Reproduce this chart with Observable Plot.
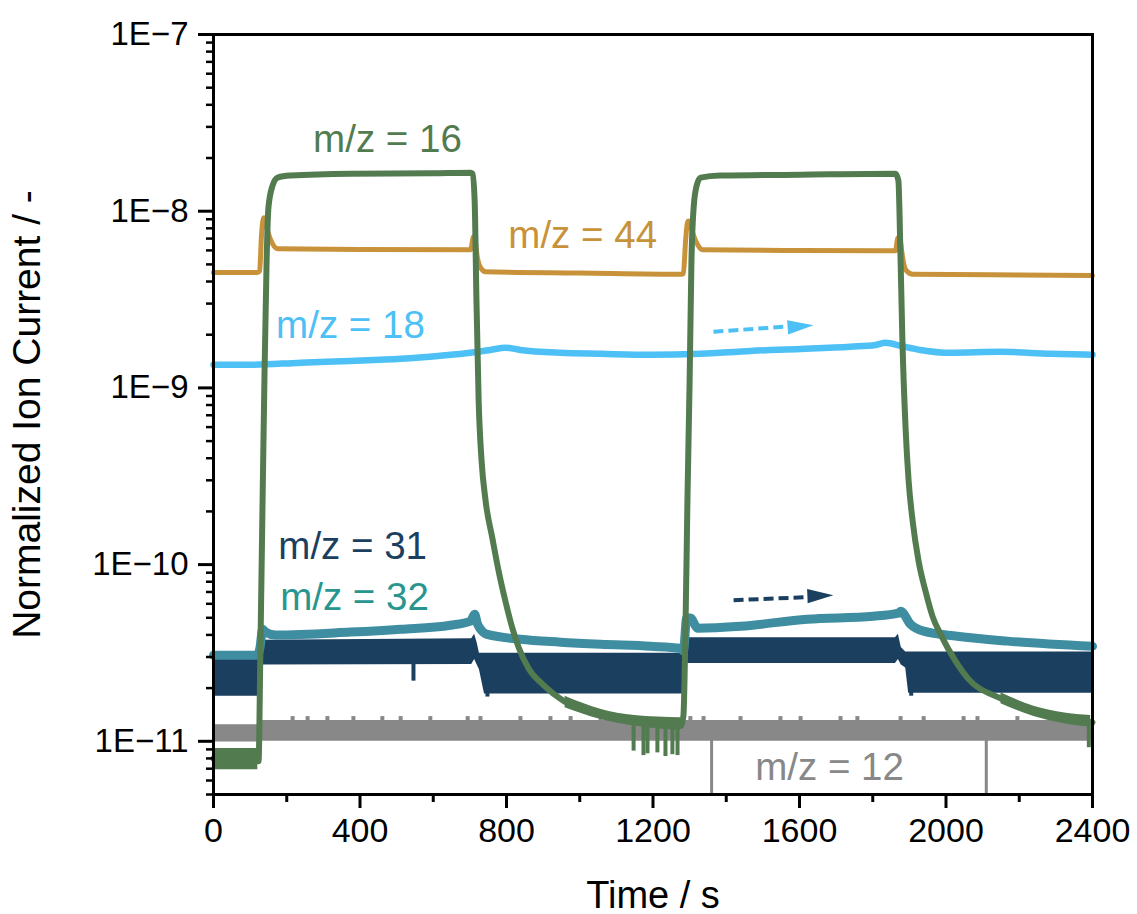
<!DOCTYPE html>
<html>
<head>
<meta charset="utf-8">
<script src="https://cdn.jsdelivr.net/npm/d3@7"></script>
<script src="https://cdn.jsdelivr.net/npm/@observablehq/plot@0.6"></script>
<style>
  html, body { margin: 0; padding: 0; background: #ffffff; }
  #chart { width: 1137px; height: 914px; }
</style>
</head>
<body>
<div id="chart"></div>
<script>
// ---------------- data ----------------
// m/z = 16 (green)
const t16 = [0, 123, 128, 134, 139, 145, 150, 161, 175, 210, 374, 600, 702, 707, 713, 718, 724, 732, 743, 762, 778, 797, 816, 833, 860, 901, 956, 1057, 1147, 1193, 1275, 1283, 1289, 1294, 1300, 1305, 1311, 1319, 1330, 1384, 1603, 1862, 1870, 1876, 1881, 1890, 1898, 1909, 1925, 1944, 1963, 1985, 2026, 2059, 2149, 2239, 2386, 2400];
const v16 = [8.0e-12, 7.7e-12, 3.24e-11, 2.29e-10, 1.10e-9, 5.24e-9, 1.05e-8, 1.39e-8, 1.55e-8, 1.59e-8, 1.63e-8, 1.64e-8, 1.65e-8, 1.63e-8, 1.15e-8, 3.11e-9, 8.44e-10, 3.86e-10, 2.29e-10, 1.39e-10, 9.31e-11, 6.21e-11, 4.37e-11, 3.41e-11, 2.59e-11, 2.08e-11, 1.69e-11, 1.42e-11, 1.30e-11, 1.25e-11, 1.22e-11, 1.39e-11, 4.79e-11, 2.29e-10, 1.10e-9, 5.24e-9, 1.05e-8, 1.39e-8, 1.55e-8, 1.59e-8, 1.61e-8, 1.63e-8, 1.49e-8, 5.24e-9, 1.85e-9, 5.71e-10, 2.97e-10, 1.76e-10, 1.05e-10, 7.08e-11, 5.11e-11, 4.04e-11, 2.84e-11, 2.28e-11, 1.75e-11, 1.48e-11, 1.30e-11, 1.28e-11];
// noisy bands of m/z = 16 (before the first step and in the two decay tails)
const t16band = [0, 121];
const lo16band = [6.9e-12, 6.9e-12];
const hi16band = [9.1e-12, 9.1e-12];
const t16tail1 = [960, 1057, 1150, 1275];
const lo16tail1 = [1.55e-11, 1.33e-11, 1.22e-11, 1.15e-11];
const hi16tail1 = [1.80e-11, 1.52e-11, 1.40e-11, 1.36e-11];
const t16tail2 = [2150, 2240, 2320, 2395];
const lo16tail2 = [1.63e-11, 1.38e-11, 1.26e-11, 1.20e-11];
const hi16tail2 = [1.88e-11, 1.58e-11, 1.45e-11, 1.40e-11];
// downward spikes of m/z = 16
const t16spike = [1147, 1174, 1185, 1212, 1234, 1253, 1267, 2390];
const lo16spike = [8.8e-12, 8.3e-12, 8.5e-12, 8.6e-12, 8.2e-12, 8.4e-12, 8.3e-12, 9.2e-12];
const hi16spike = [1.28e-11, 1.25e-11, 1.25e-11, 1.24e-11, 1.24e-11, 1.23e-11, 1.23e-11, 1.30e-11];

// m/z = 44 (ochre)
const t44 = [0, 120, 126, 131, 137, 142, 150, 161, 175, 400, 702, 710, 715, 721, 729, 743, 1000, 1278, 1283, 1289, 1294, 1297, 1302, 1311, 1322, 1335, 1600, 1862, 1868, 1873, 1879, 1884, 1892, 1909, 2200, 2400];
const v44 = [4.50e-9, 4.50e-9, 4.60e-9, 7.26e-9, 9.19e-9, 8.61e-9, 7.46e-9, 6.55e-9, 6.13e-9, 6.08e-9, 6.05e-9, 7.18e-9, 6.63e-9, 5.38e-9, 4.79e-9, 4.54e-9, 4.47e-9, 4.40e-9, 4.45e-9, 6.81e-9, 8.61e-9, 8.80e-9, 8.40e-9, 7.26e-9, 6.46e-9, 6.05e-9, 5.99e-9, 5.97e-9, 7.0e-9, 7.18e-9, 5.97e-9, 5.11e-9, 4.60e-9, 4.40e-9, 4.36e-9, 4.33e-9];

// m/z = 18 (light blue)
const t18 = [0, 101, 238, 374, 511, 620, 702, 756, 797, 838, 947, 1057, 1193, 1330, 1466, 1603, 1739, 1808, 1835, 1876, 1930, 2012, 2149, 2285, 2400];
const v18 = [1.35e-9, 1.35e-9, 1.39e-9, 1.42e-9, 1.46e-9, 1.52e-9, 1.58e-9, 1.64e-9, 1.69e-9, 1.64e-9, 1.58e-9, 1.56e-9, 1.54e-9, 1.56e-9, 1.62e-9, 1.66e-9, 1.71e-9, 1.75e-9, 1.80e-9, 1.73e-9, 1.64e-9, 1.58e-9, 1.60e-9, 1.56e-9, 1.54e-9];

// m/z = 32 (teal)
const t32 = [0, 120, 127, 134, 142, 170, 374, 511, 647, 702, 713, 721, 729, 745, 838, 947, 1057, 1193, 1275, 1283, 1292, 1302, 1322, 1439, 1621, 1801, 1870, 1876, 1903, 1939, 2031, 2168, 2400];
const v32 = [3.07e-11, 3.07e-11, 3.4e-11, 4.31e-11, 4.15e-11, 3.99e-11, 4.15e-11, 4.31e-11, 4.54e-11, 4.79e-11, 5.24e-11, 4.60e-11, 4.31e-11, 4.04e-11, 3.78e-11, 3.64e-11, 3.54e-11, 3.45e-11, 3.36e-11, 3.24e-11, 4.98e-11, 4.98e-11, 4.37e-11, 4.48e-11, 4.91e-11, 5.10e-11, 5.31e-11, 5.45e-11, 4.60e-11, 4.20e-11, 3.93e-11, 3.69e-11, 3.45e-11];

// m/z = 31 (navy) – noisy band: lower and upper envelope
const t31 = [0, 123, 130, 705, 713, 720, 726, 740, 1280, 1287, 1293, 1862, 1870, 1878, 1890, 1898, 2400];
const hi31 = [2.90e-11, 2.90e-11, 3.73e-11, 3.80e-11, 4.04e-11, 3.60e-11, 3.15e-11, 3.15e-11, 3.15e-11, 3.80e-11, 3.85e-11, 3.85e-11, 4.04e-11, 3.40e-11, 3.20e-11, 3.20e-11, 3.20e-11];
const lo31 = [1.80e-11, 1.80e-11, 2.70e-11, 2.72e-11, 2.90e-11, 2.70e-11, 2.55e-11, 1.85e-11, 1.85e-11, 2.70e-11, 2.76e-11, 2.76e-11, 2.90e-11, 2.70e-11, 2.60e-11, 1.87e-11, 1.87e-11];
const t31spike = [546, 748, 1905];
const lo31spike = [2.19e-11, 1.78e-11, 1.80e-11];
const hi31spike = [2.8e-11, 2.4e-11, 2.4e-11];

// m/z = 12 (grey) – noisy band
const t12 = [0, 125, 132, 2400];
const hi12 = [1.24e-11, 1.24e-11, 1.31e-11, 1.31e-11];
const lo12 = [0.99e-11, 0.99e-11, 1.00e-11, 1.00e-11];
const t12spike = [216, 257, 311, 382, 461, 511, 592, 694, 729, 838, 920, 975, 1057, 1302, 1338, 1439, 1548, 1603, 1712, 1758, 1876, 1939, 2048, 2086, 2195];
const v12spike = 1.38e-11;
const t12drop = [1360, 2110];
const v12drop = 5e-12;

// labels
const labelText = ["m/z = 16", "m/z = 44", "m/z = 18", "m/z = 31", "m/z = 32", "m/z = 12"];
const labelT = [475, 1008, 374, 380, 385, 1682];
const labelV = [2.54e-8, 7.26e-9, 2.25e-9, 1.26e-10, 6.46e-11, 7.13e-12];

// dashed arrows (start, end of shaft, head centre) in data units
const arrowSeries = ["m/z = 18", "m/z = 31"];
const arrowT1 = [1365, 1420];
const arrowV1 = [2.08e-9, 6.29e-11];
const arrowT2 = [1575, 1630];
const arrowV2 = [2.23e-9, 6.55e-11];
const arrowHeadT = [1603, 1657];
const arrowHeadV = [2.23e-9, 6.67e-11];

// ticks
const xMajor = [0, 400, 800, 1200, 1600, 2000, 2400];
const xMinor = [200, 600, 1000, 1400, 1800, 2200];
const yMajor = [1e-11, 1e-10, 1e-9, 1e-8, 1e-7];
const yMinorMult = [2, 3, 4, 5, 6, 7, 8, 9];
const yMinorDecades = [1e-12, 1e-11, 1e-10, 1e-9, 1e-8];

// ---------------- styling ----------------
const FONT = "'Liberation Sans', Arial, Helvetica, sans-serif";
const colors = {
  "m/z = 16": "#537B50",
  "m/z = 44": "#C8923A",
  "m/z = 18": "#4DC0F5",
  "m/z = 31": "#1B3F5F",
  "m/z = 32": "#3E8DA1",
  "m/z = 12": "#888888"
};
const labelColors = {...colors, "m/z = 32": "#28968F"};

const yMinor = [];
for (const d of yMinorDecades) for (const m of yMinorMult) {
  const v = m * d;
  if (v >= 5e-12 * 0.999 && v < 1e-7) yMinor.push(v);
}

const zip2 = (t, v) => t.map((x, i) => ({t: x, v: v[i]}));
const zipBand = (t, lo, hi) => t.map((x, i) => ({t: x, lo: lo[i], hi: hi[i]}));

const s16 = zip2(t16, v16);
const s44 = zip2(t44, v44);
const s18 = zip2(t18, v18);
const s32 = zip2(t32, v32);
const b31 = zipBand(t31, lo31, hi31);
const b12 = zipBand(t12, lo12, hi12);
const b16 = zipBand(t16band, lo16band, hi16band);
const b16t1 = zipBand(t16tail1, lo16tail1, hi16tail1);
const b16t2 = zipBand(t16tail2, lo16tail2, hi16tail2);
const sp16 = zipBand(t16spike, lo16spike, hi16spike);
const sp31 = zipBand(t31spike, lo31spike, hi31spike);
const sp12 = t12spike.map(t => ({t, lo: 1.25e-11, hi: v12spike}));
const dr12 = t12drop.map(t => ({t, lo: v12drop, hi: 1.1e-11}));

const labels = labelText.map((s, i) => ({s, t: labelT[i], v: labelV[i]}));
const arrows = arrowSeries.map((s, i) => ({
  s, t1: arrowT1[i], v1: arrowV1[i], t2: arrowT2[i], v2: arrowV2[i], ht: arrowHeadT[i], hv: arrowHeadV[i]
}));

const arrowHead = {
  draw(ctx, size) {
    const r = Math.sqrt(size / Math.PI);
    const L = 2 * r, W = 1.1 * r;
    ctx.moveTo(L / 2, 0);
    ctx.lineTo(-L / 2, -W / 2);
    ctx.lineTo(-L / 2, W / 2);
    ctx.closePath();
  }
};

const chart = Plot.plot({
  width: 1137,
  height: 914,
  marginLeft: 213,
  marginRight: 45,
  marginTop: 34,
  marginBottom: 120,
  style: {fontFamily: FONT, background: "#ffffff", color: "#000000", overflow: "visible"},
  x: {domain: [0, 2400]},
  y: {type: "log", domain: [5e-12, 1e-7]},
  marks: [
    // m/z = 12
    Plot.areaY(b12, {x: "t", y1: "lo", y2: "hi", fill: colors["m/z = 12"]}),
    Plot.ruleX(sp12, {x: "t", y1: "lo", y2: "hi", stroke: colors["m/z = 12"], strokeWidth: 4}),
    Plot.ruleX(dr12, {x: "t", y1: "lo", y2: "hi", stroke: colors["m/z = 12"], strokeWidth: 3}),
    // m/z = 31
    Plot.areaY(b31, {x: "t", y1: "lo", y2: "hi", fill: colors["m/z = 31"]}),
    Plot.ruleX(sp31, {x: "t", y1: "lo", y2: "hi", stroke: colors["m/z = 31"], strokeWidth: 4}),
    // m/z = 32
    Plot.line(s32, {x: "t", y: "v", stroke: colors["m/z = 32"], strokeWidth: 9, curve: "monotone-x"}),
    // m/z = 18
    Plot.line(s18, {x: "t", y: "v", stroke: colors["m/z = 18"], strokeWidth: 6.5, curve: "monotone-x"}),
    // m/z = 44
    Plot.line(s44, {x: "t", y: "v", stroke: colors["m/z = 44"], strokeWidth: 5, curve: "monotone-x"}),
    // m/z = 16
    Plot.areaY(b16, {x: "t", y1: "lo", y2: "hi", fill: colors["m/z = 16"]}),
    Plot.areaY(b16t1, {x: "t", y1: "lo", y2: "hi", fill: colors["m/z = 16"], curve: "monotone-x"}),
    Plot.areaY(b16t2, {x: "t", y1: "lo", y2: "hi", fill: colors["m/z = 16"], curve: "monotone-x"}),
    Plot.ruleX(sp16, {x: "t", y1: "lo", y2: "hi", stroke: colors["m/z = 16"], strokeWidth: 4}),
    Plot.line(s16, {x: "t", y: "v", stroke: colors["m/z = 16"], strokeWidth: 6, curve: "monotone-x"}),
    // dashed arrows
    Plot.link(arrows, {x1: "t1", y1: "v1", x2: "t2", y2: "v2", stroke: d => colors[d.s], strokeWidth: 4, strokeDasharray: "10,5", strokeLinecap: "butt"}),
    Plot.dot(arrows, {x: "ht", y: "hv", symbol: arrowHead, r: 13, fill: d => colors[d.s], stroke: "none", rotate: d => d.s === "m/z = 18" ? -4.6 : -2.3}),
    // series labels
    Plot.text(labels, {x: "t", y: "v", text: "s", fill: d => labelColors[d.s], fontSize: 38.5, textAnchor: "middle", lineAnchor: "middle"}),
    // axes
    Plot.axisY(yMinor, {anchor: "left", tickSize: 7, strokeWidth: 2.5, tickFormat: () => "", label: null}),
    Plot.axisY(yMajor, {anchor: "left", tickSize: 15, tickPadding: 10, strokeWidth: 3, fontSize: 33, tickFormat: d => "1E\u2212" + Math.round(-Math.log10(d)), label: null}),
    Plot.axisX(xMinor, {anchor: "bottom", tickSize: 8, strokeWidth: 3, tickFormat: () => "", label: null}),
    Plot.axisX(xMajor, {anchor: "bottom", tickSize: 14, tickPadding: 9, strokeWidth: 3, fontSize: 34, tickFormat: d => String(d), label: null}),
    Plot.text(["Time / s"], {frameAnchor: "bottom", dy: 113, textAnchor: "middle", lineAnchor: "bottom", fontSize: 38, fill: "#000"}),
    Plot.text(["Normalized Ion Current / -"], {frameAnchor: "left", dx: -186, rotate: -90, textAnchor: "middle", lineAnchor: "middle", fontSize: 39, fill: "#000"}),
    Plot.frame({stroke: "#000", strokeWidth: 3})
  ]
});

document.getElementById("chart").appendChild(chart);
</script>
</body>
</html>
